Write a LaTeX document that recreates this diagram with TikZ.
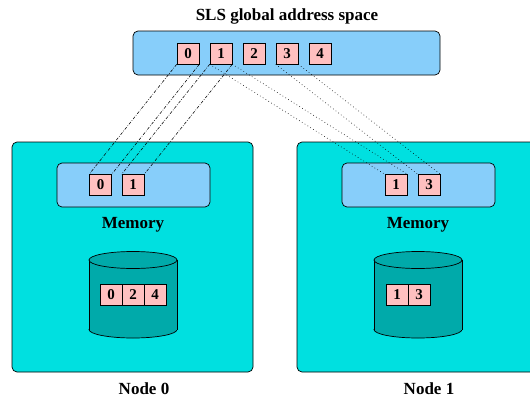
\documentclass[tikz,border=0pt]{standalone}
\usepackage{fontspec}
\setmainfont{Liberation Serif}
\begin{document}
\begin{tikzpicture}[x=1pt,y=-1pt,
  every node/.style={font=\bfseries},
  cellbox/.style={draw=black, line width=0.6pt, fill=cellpink, minimum width=22pt, minimum height=21pt, inner sep=0pt, font=\fontsize{15}{15}\selectfont\bfseries},
  panel/.style={draw=black, line width=0.7pt, rounded corners=5pt, inner sep=0pt},
  lbl/.style={font=\fontsize{17}{17}\selectfont\bfseries, inner sep=0pt},
  dashdotline/.style={draw=black, line width=0.55pt, dash pattern=on 3pt off 1.5pt on 0.7pt off 1.5pt},
  dotline/.style={draw=black, line width=0.55pt, dash pattern=on 0.7pt off 2.6pt}
]
\definecolor{cellpink}{RGB}{255,192,192}
\definecolor{barblue}{RGB}{135,206,250}
\definecolor{nodecyan}{RGB}{0,224,224}
\definecolor{diskteal}{RGB}{0,170,170}
\useasboundingbox (0,0) rectangle (530,399);

% title and global bar
\node[lbl] (title) at (287,16) {SLS global address space};
\node[panel, fill=barblue, minimum width=307pt, minimum height=44pt] (bar) at (286.5,53) {};
\foreach \i in {0,...,4} {
  \node[cellbox] (t\i) at (188+33*\i,53.5) {\i};
}

% compute nodes
\node[panel, fill=nodecyan, minimum width=241pt, minimum height=230pt] (n0) at (132.5,257) {};
\node[panel, fill=nodecyan, minimum width=241pt, minimum height=230pt] (n1) at (417.5,257) {};

% memory boxes
\node[panel, fill=barblue, minimum width=153pt, minimum height=44pt] (mem0) at (133.5,185) {};
\node[panel, fill=barblue, minimum width=153pt, minimum height=44pt] (mem1) at (418.5,185) {};
\node[cellbox] (a0) at (100.5,185) {0};
\node[cellbox] (a1) at (133,185) {1};
\node[cellbox] (b1) at (396,185) {1};
\node[cellbox] (b3) at (429,185) {3};
\node[lbl] (ml0) at (133,224.5) {Memory};
\node[lbl] (ml1) at (418,224.5) {Memory};

% disks
\foreach \cx/\nm in {133/d0, 418/d1} {
  \draw[line width=0.7pt, fill=diskteal] (\cx,329.5) ellipse (44 and 8.5);
  \fill[diskteal] (\cx-44,260) rectangle (\cx+44,329.5);
  \draw[line width=0.7pt] (\cx-44,260) -- (\cx-44,329.5);
  \draw[line width=0.7pt] (\cx+44,260) -- (\cx+44,329.5);
  \draw[line width=0.7pt, fill=diskteal] (\cx,260) ellipse (44 and 8.5);
}
\node[cellbox] (c0) at (111,295) {0};
\node[cellbox] (c2) at (133,295) {2};
\node[cellbox] (c4) at (155,295) {4};
\node[cellbox] (e1) at (397,295) {1};
\node[cellbox] (e3) at (419,295) {3};

% node labels
\node[lbl] (nl0) at (144,389) {Node 0};
\node[lbl] (nl1) at (429,389) {Node 1};

% connectors
\draw[dashdotline] (t0.south west) -- (a0.north west);
\draw[dashdotline] (t0.south east) -- (a0.north east);
\draw[dashdotline] (t1.south west) -- (a1.north west);
\draw[dashdotline] (t1.south east) -- (a1.north east);
\draw[dotline] (t1.south west) -- (b1.north west);
\draw[dotline] (t1.south east) -- (b1.north east);
\draw[dotline] (t3.south west) -- (b3.north west);
\draw[dotline] (t3.south east) -- (b3.north east);
\end{tikzpicture}
\end{document}
